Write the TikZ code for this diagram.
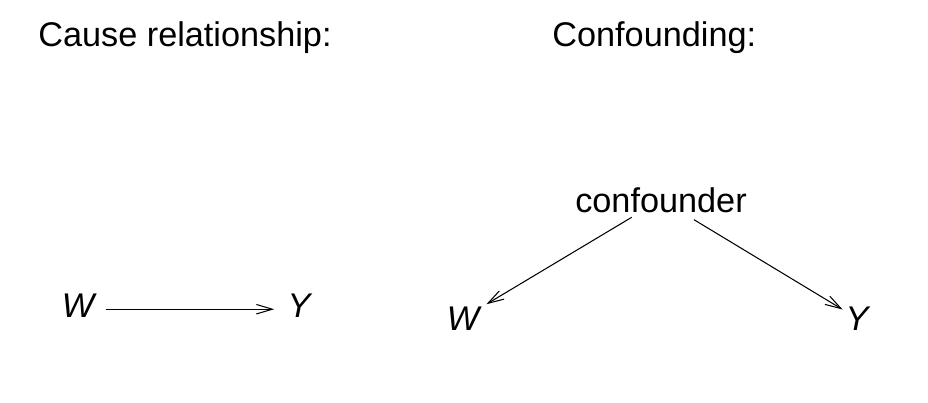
\documentclass[tikz,border=0pt]{standalone}
\usepackage{fontspec}
\setmainfont{Liberation Sans}
\usetikzlibrary{arrows.meta}
\tikzset{
  lbl/.style={inner sep=0pt, font=\fontsize{19.5}{23}\selectfont},
  var/.style={inner sep=0pt, font=\fontsize{19.5}{23}\selectfont\itshape},
  arr/.style={-{Straight Barb[length=3.2mm,width=1.9mm]}, line width=0.6pt}
}
\begin{document}
\begin{tikzpicture}[x=0.02cm, y=-0.02cm]
  \useasboundingbox (0,0) rectangle (928,402);
  % titles
  \node (causetitle) at (38,47) [lbl, anchor=base west] {Cause relationship:};
  \node (conftitle) at (552,47) [lbl, anchor=base west] {Confounding:};

  % cause: W -> Y
  \node (w1) at (78,317) [var, anchor=base] {W};
  \node (y1) at (299,317) [var, anchor=base] {Y};
  \draw[arr, shorten <=0.22cm, shorten >=0.26cm] ([yshift=-0.08cm]w1.east) -- ([yshift=-0.08cm]y1.west);

  % confounding
  \node (conf) at (661,212) [lbl, anchor=base] {confounder};
  \node (w2) at (463,330) [var, anchor=base] {W};
  \node (y2) at (857,330) [var, anchor=base] {Y};
  \draw[arr, shorten <=0.18cm, shorten >=0.16cm] (conf) -- (w2);
  \draw[arr, shorten <=0.27cm, shorten >=0.06cm] (conf) -- (y2);
\end{tikzpicture}
\end{document}
